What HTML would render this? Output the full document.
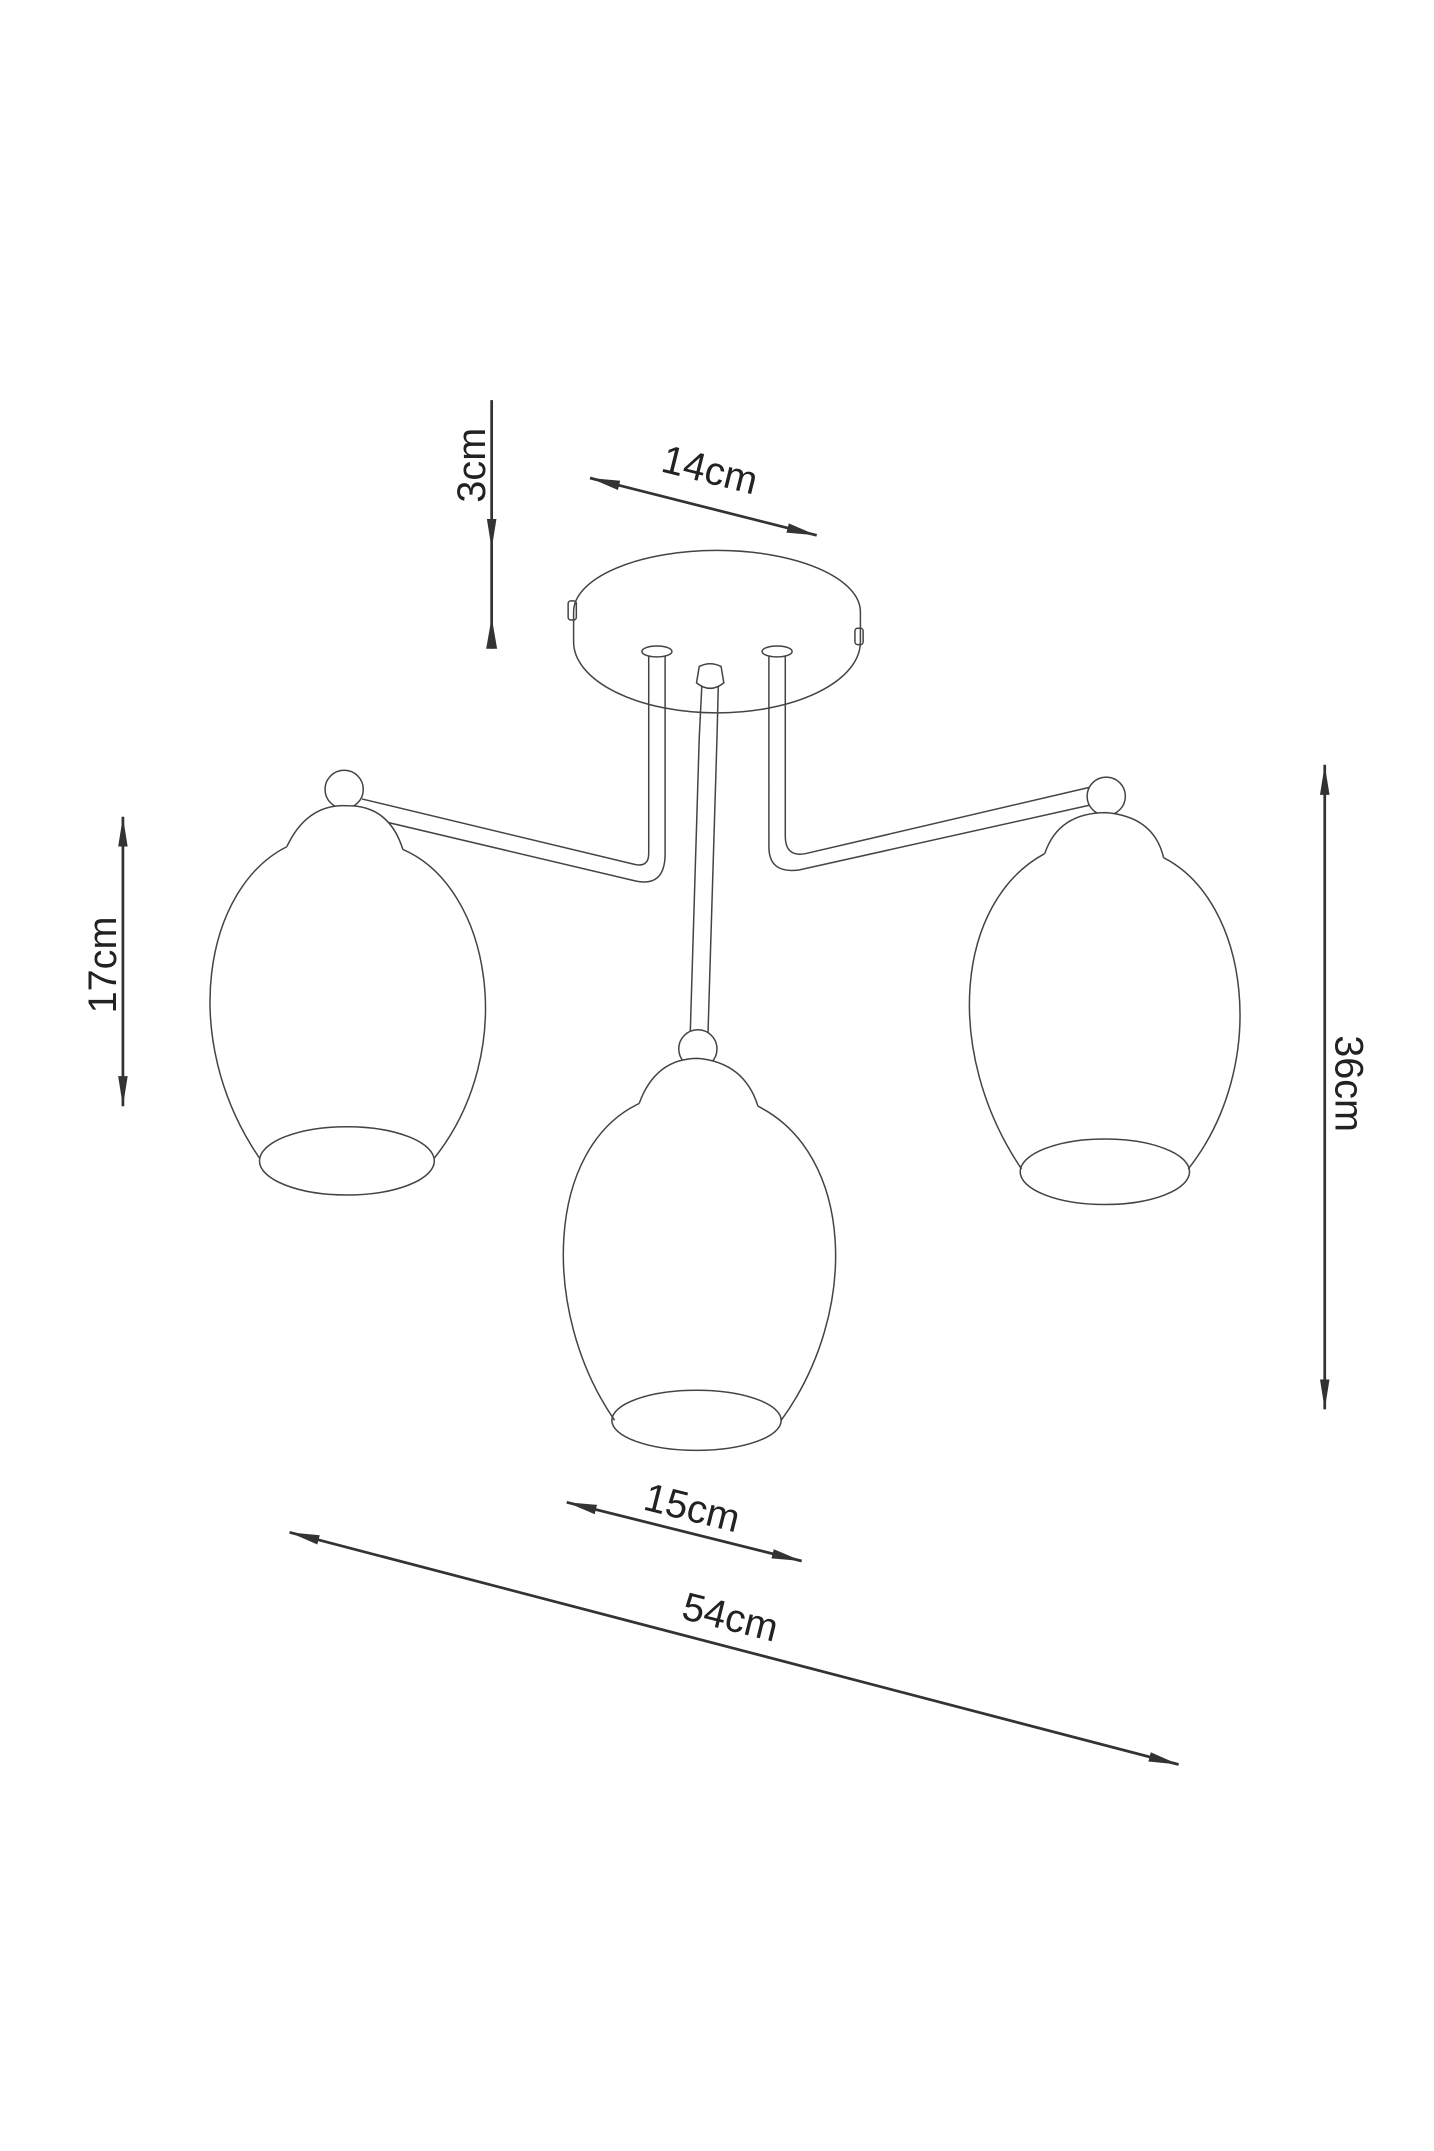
<!DOCTYPE html>
<html><head><style>html,body{margin:0;padding:0;background:#fff}svg{display:block}</style></head>
<body>
<svg width="1434" height="2151" viewBox="0 0 1050 1575" xmlns="http://www.w3.org/2000/svg">
<defs>
<marker id="a" viewBox="0 0 22 10" refX="22" refY="5" markerWidth="22" markerHeight="10" markerUnits="userSpaceOnUse" orient="auto-start-reverse"><path d="M0,1.5 L22,5 L0,8.5 Z" fill="#333"/></marker>
</defs>
<g fill="none" stroke="#333" stroke-width="2">
<line x1="360" y1="293" x2="360" y2="402" marker-end="url(#a)"/>
<line x1="360" y1="402" x2="360" y2="475"/>
<path d="M360,452 L364,475 L356,475 Z" fill="#333" stroke="none"/>
<line x1="432" y1="350" x2="598" y2="392" marker-start="url(#a)" marker-end="url(#a)"/>
<line x1="90" y1="598" x2="90" y2="810" marker-start="url(#a)" marker-end="url(#a)"/>
<line x1="970" y1="560" x2="970" y2="1032" marker-start="url(#a)" marker-end="url(#a)"/>
<line x1="415" y1="1100" x2="587" y2="1143" marker-start="url(#a)" marker-end="url(#a)"/>
<line x1="212" y1="1122" x2="863" y2="1292" marker-start="url(#a)" marker-end="url(#a)"/>
</g>
<g fill="none" stroke="#444" stroke-width="1.1">
<path d="M420,448 A105,45 0 0 1 630,448 L630,470 A105,52 0 0 1 420,470 Z" fill="#fff"/>
<rect x="416" y="440" width="6" height="14" rx="2"/>
<rect x="626" y="460" width="6" height="12" rx="2"/>
<path d="M475,478 L475,625 Q475,635 465,633 L265,585 M487,478 L487,625 Q487,650 465,645 L262,597" fill="none"/>
<ellipse cx="481" cy="477" rx="11" ry="4" fill="#fff"/>
<path d="M563,478 L563,620 Q563,640 585,637 L805,588 M575,478 L575,612 Q575,628 590,625 L800,576" fill="none"/>
<ellipse cx="569" cy="477" rx="11" ry="4" fill="#fff"/>
<path d="M514,500 L512,540 L505,770 M526,500 L525,540 L518,770"/>
<path d="M512,488 Q520,484 528,488 L530,500 Q520,508 510,500 Z" fill="#fff"/>
<circle cx="252" cy="578" r="14" fill="#fff"/>
<path d="M210,620 Q225,588 255,590 Q285,590 295,622" fill="#fff"/>
<path d="M210,620 C150,650 130,760 190,848 M295,622 C360,650 380,770 318,848"/>
<ellipse cx="254" cy="850" rx="64" ry="25"/>
<circle cx="810" cy="583" r="14" fill="#fff"/>
<path d="M765,625 Q775,595 810,595 Q845,598 852,628" fill="#fff"/>
<path d="M765,625 C700,660 690,770 748,856 M852,628 C915,660 930,780 870,856"/>
<ellipse cx="809" cy="858" rx="62" ry="24"/>
<circle cx="511" cy="768" r="14" fill="#fff"/>
<path d="M468,808 Q480,775 511,775 Q545,778 555,810" fill="#fff"/>
<path d="M468,808 C400,840 395,960 450,1040 M555,810 C625,845 630,960 572,1040"/>
<ellipse cx="510" cy="1040" rx="62" ry="22"/>
</g>
<g font-family="Liberation Sans, sans-serif" font-size="29" fill="#222">
<text x="0" y="0" transform="translate(355,368) rotate(-90)">3cm</text>
<text x="0" y="0" transform="translate(483,345) rotate(14)">14cm</text>
<text x="0" y="0" transform="translate(85,742) rotate(-90)">17cm</text>
<text x="0" y="0" transform="translate(978,758) rotate(90)">36cm</text>
<text x="0" y="0" transform="translate(470,1105) rotate(14)">15cm</text>
<text x="0" y="0" transform="translate(498,1185) rotate(14)">54cm</text>
</g>
</svg>
</body></html>
